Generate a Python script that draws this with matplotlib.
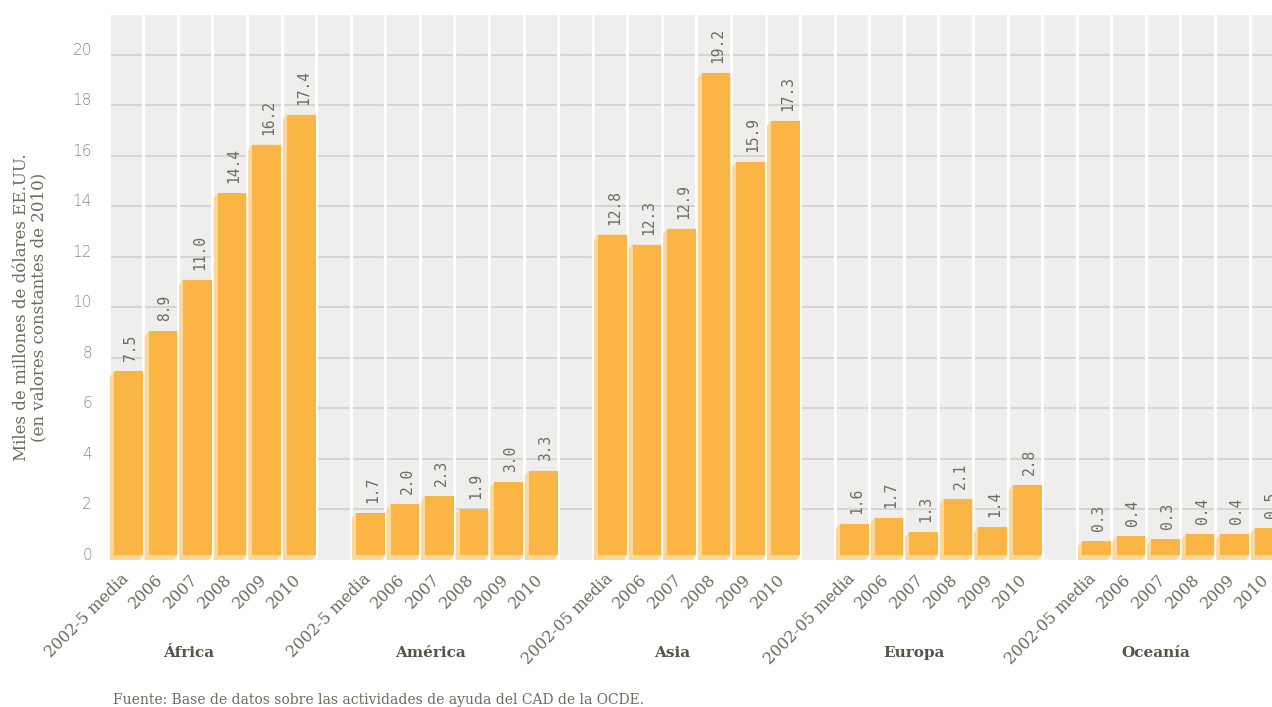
#!/usr/bin/env python3
"""Ayuda por región 2002-2010: barras con efecto de relieve."""

import matplotlib

matplotlib.use("Agg")
import matplotlib.pyplot as plt
from matplotlib.patches import Polygon, Rectangle
from matplotlib.transforms import ScaledTranslation, blended_transform_factory

# --- data ---
regions = ["África", "América", "Asia", "Europa", "Oceanía"]
periods_a = ["2002-5 media", "2006", "2007", "2008", "2009", "2010"]
periods_b = ["2002-05 media", "2006", "2007", "2008", "2009", "2010"]
region_periods = [periods_a, periods_a, periods_b, periods_b, periods_b]

# printed values (labels above the bars)
africa_vals = ["7.5", "8.9", "11.0", "14.4", "16.2", "17.4"]
america_vals = ["1.7", "2.0", "2.3", "1.9", "3.0", "3.3"]
asia_vals = ["12.8", "12.3", "12.9", "19.2", "15.9", "17.3"]
europe_vals = ["1.6", "1.7", "1.3", "2.1", "1.4", "2.8"]
oceania_vals = ["0.3", "0.4", "0.3", "0.4", "0.4", "0.5"]

# bar heights as drawn in the figure
africa_bars = [7.27, 8.85, 10.9, 14.32, 16.25, 17.43]
america_bars = [1.66, 2.02, 2.33, 1.82, 2.89, 3.33]
asia_bars = [12.69, 12.29, 12.92, 19.09, 15.57, 17.19]
europe_bars = [1.23, 1.47, 0.91, 2.22, 1.11, 2.77]
oceania_bars = [0.55, 0.75, 0.63, 0.83, 0.83, 1.07]

region_vals = [africa_vals, america_vals, asia_vals, europe_vals, oceania_vals]
region_bars = [africa_bars, america_bars, asia_bars, europe_bars, oceania_bars]

# --- style ---
W, H = 1272, 707
PANEL = "#efeeec"
GRID = "#d4d3d0"
ORANGE = "#fbb545"
SHADE = "#fdd79a"
TEXT = "#6b6b5e"
DARK = "#55554a"
SERIF = "DejaVu Serif"

fig = plt.figure(figsize=(W / 100, H / 100), dpi=100)
ax = fig.add_axes([110 / W, 147 / H, (W - 110) / W, 545 / H])
ax.set_xlim(-0.4624, 33.15)
ax.set_ylim(0, 21.58)
ax.set_facecolor(PANEL)
for sp in ax.spines.values():
    sp.set_visible(False)
ax.tick_params(length=0)

# pixel -> data conversion
p0 = ax.transData.transform((0, 0))
p1 = ax.transData.transform((1, 1))
px_x = 1.0 / (p1[0] - p0[0])
px_y = 1.0 / (p1[1] - p0[1])
dx, dy = 4 * px_x, 5 * px_y

for y in range(2, 21, 2):
    ax.axhline(y, color=GRID, lw=1.3, zorder=1)

n_slots = 7 * len(regions)
for k in range(n_slots):
    ax.axvline(k - 0.5, color="white", lw=2.2, zorder=1.5)

xticks, xlabels = [], []
for g, (bars, vals, periods) in enumerate(zip(region_bars, region_vals, region_periods)):
    for i, (h, v, p) in enumerate(zip(bars, vals, periods)):
        x = 7 * g + i
        L = x - 0.5 + 1.3 * px_x
        R = x + 0.5 - 0.5 * px_x
        hull = [(L, 0), (R - dx, 0), (R, dy), (R, h + dy), (L + dx, h + dy), (L, h)]
        ax.add_patch(Polygon(hull, closed=True, fc=SHADE, ec="none", zorder=2))
        ax.add_patch(Rectangle((L + dx, dy), R - L - dx, h, fc=ORANGE, ec="none", zorder=3))
        ax.annotate(v, ((L + dx + R) / 2, h + dy), xytext=(2, 10),
                    textcoords="offset pixels", rotation=90, ha="center",
                    va="bottom", fontsize=10.5, color=TEXT,
                    family="DejaVu Sans Mono", zorder=4, annotation_clip=False)
        xticks.append(x)
        xlabels.append(p)

ax.set_xticks(xticks)
ax.set_xticklabels(xlabels, rotation=45, ha="right", va="center",
                   rotation_mode="anchor", fontsize=11.5, color=TEXT,
                   family=SERIF)
ax.tick_params(axis="x", pad=12)

ax.set_yticks(range(0, 21, 2))
ax.set_yticklabels([str(v) for v in range(0, 21, 2)], fontsize=11,
                   color="#8a8a8a", family="DejaVu Sans", fontweight="light")
ax.tick_params(axis="y", pad=13)
up = ScaledTranslation(0, 6 / 100, fig.dpi_scale_trans)
for lab in ax.get_yticklabels():
    lab.set_transform(lab.get_transform() + up)

# region names under each group
trans = blended_transform_factory(ax.transData, fig.transFigure)
for g, name in enumerate(regions):
    ax.text(7 * g + 1.8, 1 - 653 / H, name, transform=trans, ha="center",
            va="center", fontsize=11, fontweight="bold", color=DARK,
            family=SERIF)

fig.text(30 / W, 1 - 307 / H,
         "Miles de millones de dólares EE.UU.\n(en valores constantes de 2010)",
         rotation=90, ha="center", va="center", multialignment="center",
         fontsize=12, color=TEXT, family=SERIF, linespacing=1.05)

fig.text(113 / W, 1 - 700 / H,
         "Fuente: Base de datos sobre las actividades de ayuda del CAD de la OCDE.",
         ha="left", va="center", fontsize=10, color=TEXT, family=SERIF)

fig.savefig("out.png", dpi=100)
